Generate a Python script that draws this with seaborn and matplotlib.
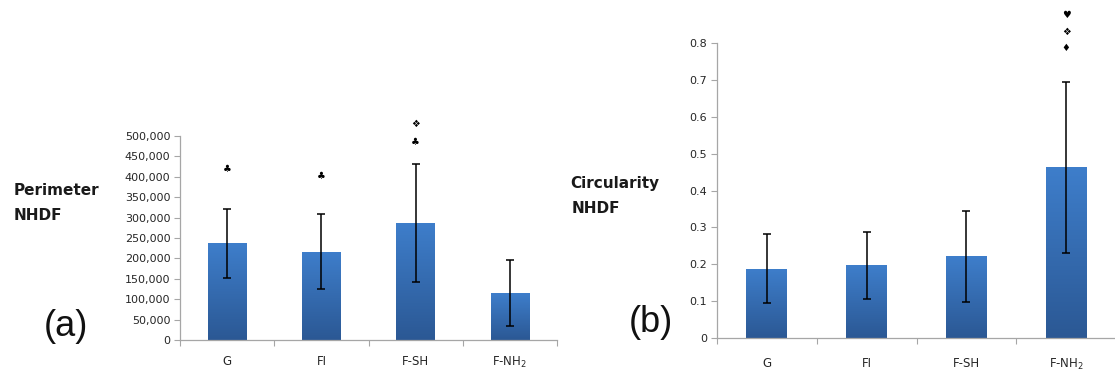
import numpy as np
import pandas as pd
import matplotlib
matplotlib.use("Agg")
import matplotlib.pyplot as plt
import seaborn as sns
from matplotlib.ticker import FuncFormatter, FixedLocator

# --- data -------------------------------------------------------------
groups = ["G", "FI", "F-SH", "F-NH$_2$"]

perimeter_mean = [237000, 216000, 287000, 115000]
perimeter_err = [84000, 92000, 144000, 81000]
perimeter_marks = ["\u2663", "\u2663", "\u2663\n\u2756", ""]

circularity_mean = [0.188, 0.197, 0.222, 0.463]
circularity_err = [0.094, 0.090, 0.123, 0.232]
circularity_marks = ["", "", "", "\u2666\n\u2756\n\u2665"]

sns.set_theme(style="white")
plt.rcParams["font.family"] = ["DejaVu Sans"]

BAR_TOP = np.array([0x3e, 0x7e, 0xcb]) / 255
BAR_BOTTOM = np.array([0x2b, 0x58, 0x94]) / 255
SPINE = "#a6a6a6"
TEXT = "#262626"

fig = plt.figure(figsize=(11.15, 3.72), dpi=100)
ax_a = fig.add_axes([180 / 1115, 32 / 372, 377 / 1115, 204 / 372])
ax_b = fig.add_axes([717 / 1115, 34 / 372, 399 / 1115, 294.7 / 372])


def gradient_bars(ax):
    grad = np.linspace(0, 1, 256)[:, None]
    img = BAR_TOP[None, None, :] * (1 - grad[..., None]) + BAR_BOTTOM[None, None, :] * grad[..., None]
    xl, yl = ax.get_xlim(), ax.get_ylim()
    for patch in ax.patches:
        x0, y0 = patch.get_x(), patch.get_y()
        w, h = patch.get_width(), patch.get_height()
        im = ax.imshow(img, extent=[x0, x0 + w, y0, y0 + h], origin="upper",
                       aspect="auto", zorder=patch.get_zorder() + 0.1,
                       interpolation="bilinear")
        im.set_clip_path(patch)
    ax.set_xlim(xl)
    ax.set_ylim(yl)


def draw_panel(ax, means, errs, marks, ylim, yticks, fmt, mark_y, mark_step, label_pad):
    df = pd.DataFrame({"group": groups, "value": means})
    sns.barplot(data=df, x="group", y="value", ax=ax, color="#3670b8",
                width=0.41, errorbar=None, saturation=1, linewidth=0)
    xs = np.arange(len(groups))
    ax.errorbar(xs, means, yerr=errs, fmt="none", ecolor="black",
                elinewidth=1.1, capsize=3, capthick=1.1, zorder=5)
    ax.set_xlim(-0.5, len(groups) - 0.5)
    ax.set_ylim(*ylim)
    gradient_bars(ax)

    ax.set_yticks(yticks)
    ax.yaxis.set_major_formatter(FuncFormatter(fmt))
    ax.xaxis.set_minor_locator(FixedLocator(np.arange(-0.5, len(groups), 1.0)))
    ax.tick_params(axis="x", which="major", length=0, pad=label_pad,
                   labelsize=8.5, labelcolor=TEXT)
    ax.tick_params(axis="x", which="minor", length=4, width=0.8,
                   color=SPINE, direction="out", bottom=True)
    ax.tick_params(axis="y", length=4, width=0.8, color=SPINE,
                   direction="out", left=True, labelsize=8, labelcolor=TEXT, pad=3)
    ax.set_xlabel("")
    ax.set_ylabel("")
    for side in ("top", "right"):
        ax.spines[side].set_visible(False)
    for side in ("left", "bottom"):
        ax.spines[side].set_color(SPINE)
        ax.spines[side].set_linewidth(0.9)

    for x, m, y in zip(xs, marks, mark_y):
        for i, sym in enumerate(m.split("\n")[::1] if m else []):
            ax.text(x, y + i * mark_step, sym, ha="center", va="center",
                    fontsize=7, color="black", zorder=6, clip_on=False)


draw_panel(ax_a, perimeter_mean, perimeter_err, perimeter_marks,
           (0, 500000), np.arange(0, 500001, 50000),
           lambda v, p: f"{int(v):,}",
           [420000, 402000, 485000, 0], 45000, 11)

draw_panel(ax_b, circularity_mean, circularity_err, circularity_marks,
           (0, 0.8), np.arange(0, 0.81, 0.1),
           lambda v, p: "0" if abs(v) < 1e-9 else f"{v:.1f}",
           [0, 0, 0, 0.787], 0.0445, 13.5)

# side titles and panel letters
fig.text(14 / 1115, 1 - 195 / 372, "Perimeter", fontsize=11, fontweight="bold",
         color="#1a1a1a", ha="left", va="baseline")
fig.text(14 / 1115, 1 - 220 / 372, "NHDF", fontsize=11, fontweight="bold",
         color="#1a1a1a", ha="left", va="baseline")
fig.text(570 / 1115, 1 - 188 / 372, "Circularity", fontsize=11, fontweight="bold",
         color="#1a1a1a", ha="left", va="baseline")
fig.text(572 / 1115, 1 - 213 / 372, "NHDF", fontsize=11, fontweight="bold",
         color="#1a1a1a", ha="left", va="baseline")
fig.text(66 / 1115, 1 - 326 / 372, "(a)", fontsize=26, family="Liberation Sans",
         color="#111111", ha="center", va="center")
fig.text(651 / 1115, 1 - 322 / 372, "(b)", fontsize=26, family="Liberation Sans",
         color="#111111", ha="center", va="center")

fig.savefig("out.png", dpi=100)
